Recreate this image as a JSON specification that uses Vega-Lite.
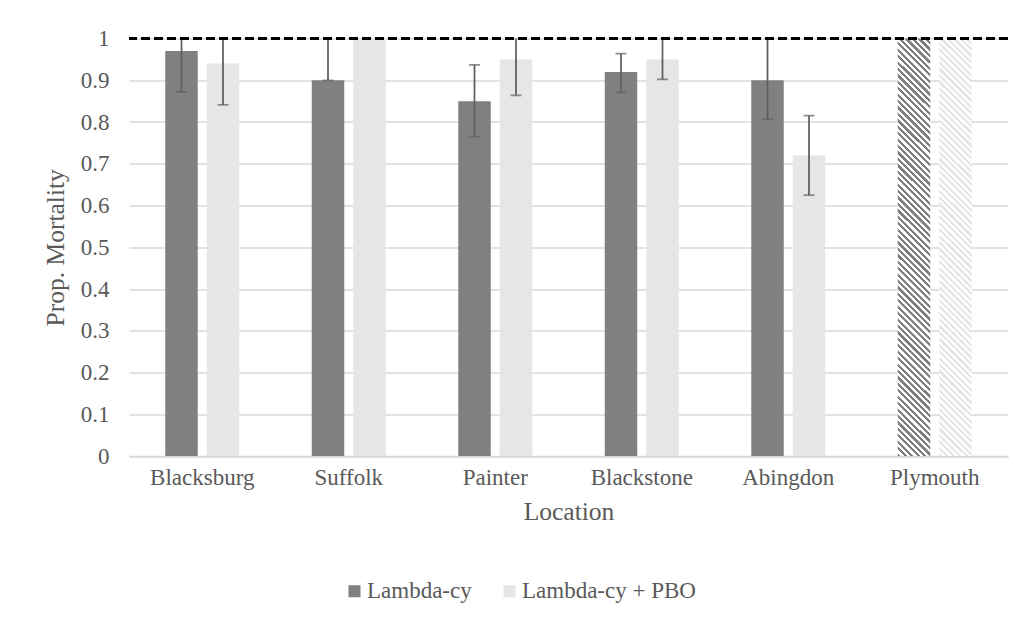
{
"$schema":"https://vega.github.io/schema/vega-lite/v6.json",
"width":879,"height":417.5,
"autosize":{"type":"none"},
"padding":{"left":129,"top":38.5,"right":18,"bottom":164},
"background":"white",
"config":{"font":"Liberation Serif","view":{"stroke":null},
 "axis":{"labelFont":"Liberation Serif","titleFont":"Liberation Serif","labelColor":"#595959","titleColor":"#595959","titleFontWeight":"normal","labelFontSize":23,"titleFontSize":25.5,"ticks":false}},
"data":{"values":[
{"Location":"Blacksburg","Series":"Lambda-cy","value":0.97,"lo":0.872,"hi":1.068},
{"Location":"Blacksburg","Series":"Lambda-cy + PBO","value":0.94,"lo":0.841,"hi":1.039},
{"Location":"Suffolk","Series":"Lambda-cy","value":0.90,"lo":0.90,"hi":1.1},
{"Location":"Suffolk","Series":"Lambda-cy + PBO","value":1.0,"lo":null,"hi":null},
{"Location":"Painter","Series":"Lambda-cy","value":0.85,"lo":0.765,"hi":0.937},
{"Location":"Painter","Series":"Lambda-cy + PBO","value":0.95,"lo":0.864,"hi":1.036},
{"Location":"Blackstone","Series":"Lambda-cy","value":0.92,"lo":0.871,"hi":0.964},
{"Location":"Blackstone","Series":"Lambda-cy + PBO","value":0.95,"lo":0.902,"hi":1.0},
{"Location":"Abingdon","Series":"Lambda-cy","value":0.90,"lo":0.806,"hi":1.0},
{"Location":"Abingdon","Series":"Lambda-cy + PBO","value":0.72,"lo":0.625,"hi":0.815},
{"Location":"Plymouth","Series":"Lambda-cy","value":1.0,"lo":null,"hi":null},
{"Location":"Plymouth","Series":"Lambda-cy + PBO","value":1.0,"lo":null,"hi":null}
]},
"layer":[
{"transform":[{"filter":"datum.Location !== 'Plymouth'"}],
 "mark":{"type":"bar"},
 "encoding":{
  "x":{"field":"Location","type":"nominal","sort":["Blacksburg","Suffolk","Painter","Blackstone","Abingdon","Plymouth"],"scale":{"domain":["Blacksburg","Suffolk","Painter","Blackstone","Abingdon","Plymouth"],"paddingInner":0.495,"paddingOuter":0.2475},"title":"Location","axis":{"labelAngle":0,"grid":false,"domainColor":"#d9d9d9","domainWidth":1.3,"labelPadding":10,"titlePadding":10,"labelFont":"Liberation Serif"}},
  "xOffset":{"field":"Series","type":"nominal","scale":{"domain":["Lambda-cy","Lambda-cy + PBO"],"paddingInner":0.217,"paddingOuter":0}},
  "y":{"field":"value","type":"quantitative","scale":{"domain":[0,1],"nice":false,"zero":true},"title":"Prop. Mortality","axis":{"values":[0,0.1,0.2,0.3,0.4,0.5,0.6,0.7,0.8,0.9,1],"format":".1~f","grid":true,"gridColor":"#d9d9d9","gridWidth":1.3,"domain":false,"labelPadding":20,"titlePadding":12,"labelFont":"Liberation Serif"}},
  "color":{"field":"Series","type":"nominal","scale":{"domain":["Lambda-cy","Lambda-cy + PBO"],"range":["#808080","#e6e6e6"]},
   "legend":{"orient":"none","legendX":214,"legendY":541,"direction":"horizontal","title":null,"symbolType":"square","symbolSize":144,"symbolStrokeWidth":0,"labelFontSize":23,"labelColor":"#595959","labelFont":"Liberation Serif","labelLimit":0,"columnPadding":26,"labelOffset":1}}
 }},
{"transform":[{"filter":"datum.Location === 'Plymouth'"}],
 "mark":{"type":"bar","fill":"white"},
 "encoding":{
  "x":{"field":"Location","type":"nominal","title":"Location"},
  "xOffset":{"field":"Series","type":"nominal"},
  "y":{"field":"value","type":"quantitative","title":"Prop. Mortality"}
 }},
{"transform":[{"filter":"datum.Location === 'Plymouth'"}],
 "mark":{"type":"bar","fill":{"gradient":"linear","x1":0,"y1":1,"x2":0.0831,"y2":-0.071,"stops":[
{"offset":0,"color":"gray"},
{"offset":0.0071,"color":"gray"},{"offset":0.0071,"color":"white"},
{"offset":0.0143,"color":"white"},{"offset":0.0143,"color":"gray"},
{"offset":0.0214,"color":"gray"},{"offset":0.0214,"color":"white"},
{"offset":0.0286,"color":"white"},{"offset":0.0286,"color":"gray"},
{"offset":0.0357,"color":"gray"},{"offset":0.0357,"color":"white"},
{"offset":0.0429,"color":"white"},{"offset":0.0429,"color":"gray"},
{"offset":0.05,"color":"gray"},{"offset":0.05,"color":"white"},
{"offset":0.0571,"color":"white"},{"offset":0.0571,"color":"gray"},
{"offset":0.0643,"color":"gray"},{"offset":0.0643,"color":"white"},
{"offset":0.0714,"color":"white"},{"offset":0.0714,"color":"gray"},
{"offset":0.0786,"color":"gray"},{"offset":0.0786,"color":"white"},
{"offset":0.0857,"color":"white"},{"offset":0.0857,"color":"gray"},
{"offset":0.0929,"color":"gray"},{"offset":0.0929,"color":"white"},
{"offset":0.1,"color":"white"},{"offset":0.1,"color":"gray"},
{"offset":0.1071,"color":"gray"},{"offset":0.1071,"color":"white"},
{"offset":0.1143,"color":"white"},{"offset":0.1143,"color":"gray"},
{"offset":0.1214,"color":"gray"},{"offset":0.1214,"color":"white"},
{"offset":0.1286,"color":"white"},{"offset":0.1286,"color":"gray"},
{"offset":0.1357,"color":"gray"},{"offset":0.1357,"color":"white"},
{"offset":0.1429,"color":"white"},{"offset":0.1429,"color":"gray"},
{"offset":0.15,"color":"gray"},{"offset":0.15,"color":"white"},
{"offset":0.1571,"color":"white"},{"offset":0.1571,"color":"gray"},
{"offset":0.1643,"color":"gray"},{"offset":0.1643,"color":"white"},
{"offset":0.1714,"color":"white"},{"offset":0.1714,"color":"gray"},
{"offset":0.1786,"color":"gray"},{"offset":0.1786,"color":"white"},
{"offset":0.1857,"color":"white"},{"offset":0.1857,"color":"gray"},
{"offset":0.1929,"color":"gray"},{"offset":0.1929,"color":"white"},
{"offset":0.2,"color":"white"},{"offset":0.2,"color":"gray"},
{"offset":0.2071,"color":"gray"},{"offset":0.2071,"color":"white"},
{"offset":0.2143,"color":"white"},{"offset":0.2143,"color":"gray"},
{"offset":0.2214,"color":"gray"},{"offset":0.2214,"color":"white"},
{"offset":0.2286,"color":"white"},{"offset":0.2286,"color":"gray"},
{"offset":0.2357,"color":"gray"},{"offset":0.2357,"color":"white"},
{"offset":0.2429,"color":"white"},{"offset":0.2429,"color":"gray"},
{"offset":0.25,"color":"gray"},{"offset":0.25,"color":"white"},
{"offset":0.2571,"color":"white"},{"offset":0.2571,"color":"gray"},
{"offset":0.2643,"color":"gray"},{"offset":0.2643,"color":"white"},
{"offset":0.2714,"color":"white"},{"offset":0.2714,"color":"gray"},
{"offset":0.2786,"color":"gray"},{"offset":0.2786,"color":"white"},
{"offset":0.2857,"color":"white"},{"offset":0.2857,"color":"gray"},
{"offset":0.2929,"color":"gray"},{"offset":0.2929,"color":"white"},
{"offset":0.3,"color":"white"},{"offset":0.3,"color":"gray"},
{"offset":0.3071,"color":"gray"},{"offset":0.3071,"color":"white"},
{"offset":0.3143,"color":"white"},{"offset":0.3143,"color":"gray"},
{"offset":0.3214,"color":"gray"},{"offset":0.3214,"color":"white"},
{"offset":0.3286,"color":"white"},{"offset":0.3286,"color":"gray"},
{"offset":0.3357,"color":"gray"},{"offset":0.3357,"color":"white"},
{"offset":0.3429,"color":"white"},{"offset":0.3429,"color":"gray"},
{"offset":0.35,"color":"gray"},{"offset":0.35,"color":"white"},
{"offset":0.3571,"color":"white"},{"offset":0.3571,"color":"gray"},
{"offset":0.3643,"color":"gray"},{"offset":0.3643,"color":"white"},
{"offset":0.3714,"color":"white"},{"offset":0.3714,"color":"gray"},
{"offset":0.3786,"color":"gray"},{"offset":0.3786,"color":"white"},
{"offset":0.3857,"color":"white"},{"offset":0.3857,"color":"gray"},
{"offset":0.3929,"color":"gray"},{"offset":0.3929,"color":"white"},
{"offset":0.4,"color":"white"},{"offset":0.4,"color":"gray"},
{"offset":0.4071,"color":"gray"},{"offset":0.4071,"color":"white"},
{"offset":0.4143,"color":"white"},{"offset":0.4143,"color":"gray"},
{"offset":0.4214,"color":"gray"},{"offset":0.4214,"color":"white"},
{"offset":0.4286,"color":"white"},{"offset":0.4286,"color":"gray"},
{"offset":0.4357,"color":"gray"},{"offset":0.4357,"color":"white"},
{"offset":0.4429,"color":"white"},{"offset":0.4429,"color":"gray"},
{"offset":0.45,"color":"gray"},{"offset":0.45,"color":"white"},
{"offset":0.4571,"color":"white"},{"offset":0.4571,"color":"gray"},
{"offset":0.4643,"color":"gray"},{"offset":0.4643,"color":"white"},
{"offset":0.4714,"color":"white"},{"offset":0.4714,"color":"gray"},
{"offset":0.4786,"color":"gray"},{"offset":0.4786,"color":"white"},
{"offset":0.4857,"color":"white"},{"offset":0.4857,"color":"gray"},
{"offset":0.4929,"color":"gray"},{"offset":0.4929,"color":"white"},
{"offset":0.5,"color":"white"},{"offset":0.5,"color":"gray"},
{"offset":0.5071,"color":"gray"},{"offset":0.5071,"color":"white"},
{"offset":0.5143,"color":"white"},{"offset":0.5143,"color":"gray"},
{"offset":0.5214,"color":"gray"},{"offset":0.5214,"color":"white"},
{"offset":0.5286,"color":"white"},{"offset":0.5286,"color":"gray"},
{"offset":0.5357,"color":"gray"},{"offset":0.5357,"color":"white"},
{"offset":0.5429,"color":"white"},{"offset":0.5429,"color":"gray"},
{"offset":0.55,"color":"gray"},{"offset":0.55,"color":"white"},
{"offset":0.5571,"color":"white"},{"offset":0.5571,"color":"gray"},
{"offset":0.5643,"color":"gray"},{"offset":0.5643,"color":"white"},
{"offset":0.5714,"color":"white"},{"offset":0.5714,"color":"gray"},
{"offset":0.5786,"color":"gray"},{"offset":0.5786,"color":"white"},
{"offset":0.5857,"color":"white"},{"offset":0.5857,"color":"gray"},
{"offset":0.5929,"color":"gray"},{"offset":0.5929,"color":"white"},
{"offset":0.6,"color":"white"},{"offset":0.6,"color":"gray"},
{"offset":0.6071,"color":"gray"},{"offset":0.6071,"color":"white"},
{"offset":0.6143,"color":"white"},{"offset":0.6143,"color":"gray"},
{"offset":0.6214,"color":"gray"},{"offset":0.6214,"color":"white"},
{"offset":0.6286,"color":"white"},{"offset":0.6286,"color":"gray"},
{"offset":0.6357,"color":"gray"},{"offset":0.6357,"color":"white"},
{"offset":0.6429,"color":"white"},{"offset":0.6429,"color":"gray"},
{"offset":0.65,"color":"gray"},{"offset":0.65,"color":"white"},
{"offset":0.6571,"color":"white"},{"offset":0.6571,"color":"gray"},
{"offset":0.6643,"color":"gray"},{"offset":0.6643,"color":"white"},
{"offset":0.6714,"color":"white"},{"offset":0.6714,"color":"gray"},
{"offset":0.6786,"color":"gray"},{"offset":0.6786,"color":"white"},
{"offset":0.6857,"color":"white"},{"offset":0.6857,"color":"gray"},
{"offset":0.6929,"color":"gray"},{"offset":0.6929,"color":"white"},
{"offset":0.7,"color":"white"},{"offset":0.7,"color":"gray"},
{"offset":0.7071,"color":"gray"},{"offset":0.7071,"color":"white"},
{"offset":0.7143,"color":"white"},{"offset":0.7143,"color":"gray"},
{"offset":0.7214,"color":"gray"},{"offset":0.7214,"color":"white"},
{"offset":0.7286,"color":"white"},{"offset":0.7286,"color":"gray"},
{"offset":0.7357,"color":"gray"},{"offset":0.7357,"color":"white"},
{"offset":0.7429,"color":"white"},{"offset":0.7429,"color":"gray"},
{"offset":0.75,"color":"gray"},{"offset":0.75,"color":"white"},
{"offset":0.7571,"color":"white"},{"offset":0.7571,"color":"gray"},
{"offset":0.7643,"color":"gray"},{"offset":0.7643,"color":"white"},
{"offset":0.7714,"color":"white"},{"offset":0.7714,"color":"gray"},
{"offset":0.7786,"color":"gray"},{"offset":0.7786,"color":"white"},
{"offset":0.7857,"color":"white"},{"offset":0.7857,"color":"gray"},
{"offset":0.7929,"color":"gray"},{"offset":0.7929,"color":"white"},
{"offset":0.8,"color":"white"},{"offset":0.8,"color":"gray"},
{"offset":0.8071,"color":"gray"},{"offset":0.8071,"color":"white"},
{"offset":0.8143,"color":"white"},{"offset":0.8143,"color":"gray"},
{"offset":0.8214,"color":"gray"},{"offset":0.8214,"color":"white"},
{"offset":0.8286,"color":"white"},{"offset":0.8286,"color":"gray"},
{"offset":0.8357,"color":"gray"},{"offset":0.8357,"color":"white"},
{"offset":0.8429,"color":"white"},{"offset":0.8429,"color":"gray"},
{"offset":0.85,"color":"gray"},{"offset":0.85,"color":"white"},
{"offset":0.8571,"color":"white"},{"offset":0.8571,"color":"gray"},
{"offset":0.8643,"color":"gray"},{"offset":0.8643,"color":"white"},
{"offset":0.8714,"color":"white"},{"offset":0.8714,"color":"gray"},
{"offset":0.8786,"color":"gray"},{"offset":0.8786,"color":"white"},
{"offset":0.8857,"color":"white"},{"offset":0.8857,"color":"gray"},
{"offset":0.8929,"color":"gray"},{"offset":0.8929,"color":"white"},
{"offset":0.9,"color":"white"},{"offset":0.9,"color":"gray"},
{"offset":0.9071,"color":"gray"},{"offset":0.9071,"color":"white"},
{"offset":0.9143,"color":"white"},{"offset":0.9143,"color":"gray"},
{"offset":0.9214,"color":"gray"},{"offset":0.9214,"color":"white"},
{"offset":0.9286,"color":"white"},{"offset":0.9286,"color":"gray"},
{"offset":0.9357,"color":"gray"},{"offset":0.9357,"color":"white"},
{"offset":0.9429,"color":"white"},{"offset":0.9429,"color":"gray"},
{"offset":0.95,"color":"gray"},{"offset":0.95,"color":"white"},
{"offset":0.9571,"color":"white"},{"offset":0.9571,"color":"gray"},
{"offset":0.9643,"color":"gray"},{"offset":0.9643,"color":"white"},
{"offset":0.9714,"color":"white"},{"offset":0.9714,"color":"gray"},
{"offset":0.9786,"color":"gray"},{"offset":0.9786,"color":"white"},
{"offset":0.9857,"color":"white"},{"offset":0.9857,"color":"gray"},
{"offset":0.9929,"color":"gray"},{"offset":0.9929,"color":"white"},
{"offset":1,"color":"white"}
 ]}},
 "encoding":{
  "x":{"field":"Location","type":"nominal","title":"Location"},
  "xOffset":{"field":"Series","type":"nominal"},
  "y":{"field":"value","type":"quantitative","title":"Prop. Mortality"},
  "fillOpacity":{"condition":{"test":"datum.Series === 'Lambda-cy'","value":1},"value":0.197}
 }},
{"transform":[{"filter":"isValid(datum.lo)"}],
 "mark":{"type":"rule","color":"#5f5f5f","strokeWidth":1.75,"clip":true},
 "encoding":{
  "x":{"field":"Location","type":"nominal","title":"Location"},
  "xOffset":{"field":"Series","type":"nominal"},
  "y":{"field":"lo","type":"quantitative","title":"Prop. Mortality"},
  "y2":{"field":"hi"}
 }},
{"transform":[{"filter":"isValid(datum.lo)"}],
 "mark":{"type":"tick","color":"#5f5f5f","thickness":1.75,"size":11,"orient":"horizontal","clip":true},
 "encoding":{
  "x":{"field":"Location","type":"nominal","title":"Location"},
  "xOffset":{"field":"Series","type":"nominal"},
  "y":{"field":"lo","type":"quantitative","title":"Prop. Mortality"}
 }},
{"transform":[{"filter":"isValid(datum.hi) && datum.hi < 0.99"}],
 "mark":{"type":"tick","color":"#5f5f5f","thickness":1.75,"size":11,"orient":"horizontal","clip":true},
 "encoding":{
  "x":{"field":"Location","type":"nominal","title":"Location"},
  "xOffset":{"field":"Series","type":"nominal"},
  "y":{"field":"hi","type":"quantitative","title":"Prop. Mortality"}
 }},
{"data":{"values":[{"ref":1}]},
 "mark":{"type":"rule","color":"black","strokeWidth":3,"strokeDash":[9,4]},
 "encoding":{"y":{"field":"ref","type":"quantitative","title":"Prop. Mortality"}}}
]
}
